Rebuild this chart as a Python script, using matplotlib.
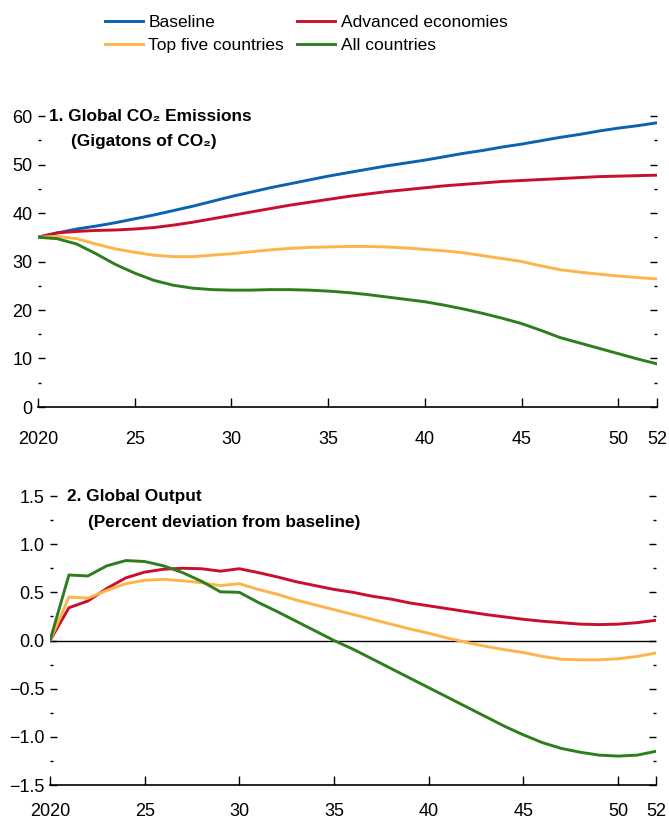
import matplotlib
matplotlib.use("Agg")
import matplotlib.pyplot as plt
from matplotlib.ticker import MultipleLocator, FixedLocator

years = list(range(2020, 2053))

# Panel 1: Global CO2 emissions (gigatons of CO2)
co2_baseline = [35.0, 35.9, 36.7, 37.3, 38.0, 38.8, 39.6, 40.5, 41.4, 42.4, 43.4,
                44.3, 45.2, 46.0, 46.8, 47.6, 48.3, 49.0, 49.7, 50.3, 50.9,
                51.6, 52.3, 52.9, 53.6, 54.2, 54.9, 55.6, 56.2, 56.9, 57.5, 58.0, 58.6]
co2_advanced = [35.0, 35.9, 36.2, 36.4, 36.5, 36.7, 37.0, 37.5, 38.1, 38.8, 39.5,
                40.2, 40.9, 41.6, 42.2, 42.8, 43.4, 43.9, 44.4, 44.8, 45.2,
                45.6, 45.9, 46.2, 46.5, 46.7, 46.9, 47.1, 47.3, 47.5, 47.6, 47.7, 47.8]
co2_top5 = [35.0, 35.2, 34.7, 33.6, 32.6, 31.9, 31.3, 31.0, 31.0, 31.3, 31.6,
            32.0, 32.4, 32.7, 32.9, 33.0, 33.1, 33.1, 33.0, 32.8, 32.5,
            32.2, 31.8, 31.2, 30.6, 30.0, 29.1, 28.3, 27.8, 27.4, 27.0, 26.7, 26.4]
co2_all = [35.0, 34.7, 33.6, 31.6, 29.4, 27.6, 26.1, 25.1, 24.5, 24.2, 24.1,
           24.1, 24.2, 24.2, 24.1, 23.9, 23.6, 23.2, 22.7, 22.2, 21.7,
           21.0, 20.2, 19.3, 18.3, 17.2, 15.8, 14.3, 13.2, 12.1, 11.0, 9.9, 8.9]

# Panel 2: Global output (percent deviation from baseline)
out_advanced = [0.0, 0.34, 0.41, 0.54, 0.65, 0.71, 0.74, 0.75, 0.745, 0.72, 0.745,
                0.705, 0.66, 0.61, 0.57, 0.53, 0.50, 0.46, 0.43, 0.39, 0.36,
                0.33, 0.30, 0.27, 0.245, 0.22, 0.20, 0.185, 0.17, 0.165, 0.17, 0.185, 0.21]
out_top5 = [0.0, 0.45, 0.44, 0.52, 0.59, 0.625, 0.635, 0.62, 0.60, 0.57, 0.59,
            0.53, 0.48, 0.42, 0.37, 0.32, 0.27, 0.22, 0.17, 0.12, 0.075,
            0.025, -0.02, -0.06, -0.095, -0.125, -0.165, -0.195, -0.20, -0.20, -0.19, -0.165, -0.13]
out_all = [0.0, 0.68, 0.67, 0.775, 0.83, 0.82, 0.775, 0.705, 0.615, 0.505, 0.50,
           0.395, 0.30, 0.20, 0.10, 0.0, -0.09, -0.19, -0.29, -0.39, -0.49,
           -0.59, -0.69, -0.79, -0.89, -0.98, -1.06, -1.12, -1.16, -1.19, -1.20, -1.19, -1.15]

series_labels = ["Baseline", "Advanced economies", "Top five countries", "All countries"]
xtick_values = [2020, 2025, 2030, 2035, 2040, 2045, 2050, 2052]
xtick_labels = ["2020", "25", "30", "35", "40", "45", "50", "52"]

C_BLUE = "#0A62B0"
C_RED = "#C8102E"
C_YEL = "#FDB44B"
C_GRN = "#2E7D1E"

FAM = ["Liberation Sans", "DejaVu Sans"]
plt.rcParams["font.family"] = FAM
plt.rcParams["axes.unicode_minus"] = True

fig = plt.figure(figsize=(6.69, 8.22), dpi=100)
ax1 = fig.add_axes([38 / 669, 1 - 407 / 822, (657 - 38) / 669, (407 - 116) / 822])
ax2 = fig.add_axes([50 / 669, 1 - 785 / 822, (656 - 50) / 669, (785 - 496) / 822])

LW = 2.1
TITLE_SIZE = 12.4


def style(ax, ylim, major, minor, fmt, xpad):
    ax.set_xlim(2020, 2052)
    ax.set_ylim(*ylim)
    for s in ["top", "left", "right"]:
        ax.spines[s].set_visible(False)
    ax.spines["bottom"].set_linewidth(1.2)
    ax.xaxis.set_major_locator(FixedLocator(xtick_values))
    ax.set_xticklabels(xtick_labels)
    ax.yaxis.set_major_locator(MultipleLocator(major))
    ax.yaxis.set_minor_locator(MultipleLocator(minor))
    ax.yaxis.set_major_formatter(plt.FuncFormatter(fmt))
    ax.tick_params(axis="x", direction="in", length=6.5, width=1.0, pad=xpad,
                   labelsize=13, top=False)
    ax.tick_params(axis="y", which="major", direction="in", length=5, width=1.0,
                   pad=4, labelsize=13, left=True, right=True)
    ax.tick_params(axis="y", which="minor", direction="in", length=2, width=1.0,
                   left=True, right=True)


style(ax1, (0, 60), 10, 5, lambda v, p: f"{v:.0f}", 17)
ax1.plot(years, co2_baseline, color=C_BLUE, lw=LW, label=series_labels[0])
ax1.plot(years, co2_advanced, color=C_RED, lw=LW, label=series_labels[1])
ax1.plot(years, co2_top5, color=C_YEL, lw=LW, label=series_labels[2])
ax1.plot(years, co2_all, color=C_GRN, lw=LW, label=series_labels[3])

fig.text(49 / 669, 1 - 116 / 822, "1. Global CO\u2082 Emissions",
         fontsize=TITLE_SIZE, fontweight="bold", va="center", ha="left")
fig.text(71 / 669, 1 - 141 / 822, "(Gigatons of CO\u2082)",
         fontsize=TITLE_SIZE, fontweight="bold", va="center", ha="left")

style(ax2, (-1.5, 1.5), 0.5, 0.25,
      lambda v, p: ("\u2212" if v < -1e-9 else "") + f"{abs(v):.1f}", 13)
ax2.axhline(0, color="black", lw=1.0, zorder=1)
ax2.plot(years, out_advanced, color=C_RED, lw=LW)
ax2.plot(years, out_top5, color=C_YEL, lw=LW)
ax2.plot(years, out_all, color=C_GRN, lw=LW)

fig.text(67 / 669, 1 - 496 / 822, "2. Global Output",
         fontsize=TITLE_SIZE, fontweight="bold", va="center", ha="left")
fig.text(88 / 669, 1 - 522 / 822, "(Percent deviation from baseline)",
         fontsize=TITLE_SIZE, fontweight="bold", va="center", ha="left")

h = ax1.get_lines()
handles = [h[0], h[2], h[1], h[3]]
labels = [series_labels[0], series_labels[2], series_labels[1], series_labels[3]]
fig.legend(handles, labels, loc="upper left", bbox_to_anchor=(105 / 669, 1 - 15 / 822),
           ncol=2, frameon=False, prop={"size": 12.5},
           handlelength=2.2, handletextpad=0.3, columnspacing=0.75,
           labelspacing=0.42, borderaxespad=0, borderpad=0)

fig.savefig("out.png", dpi=100)
